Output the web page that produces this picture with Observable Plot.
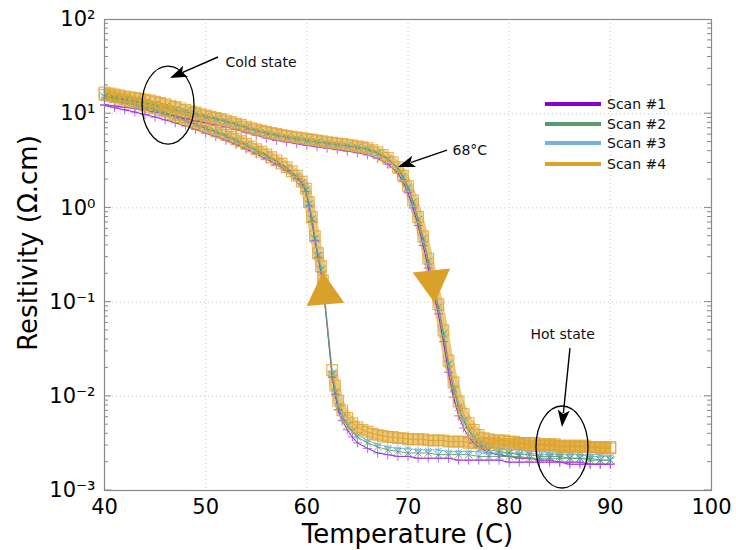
<!DOCTYPE html>
<html><head><meta charset="utf-8">
<script src="https://cdn.jsdelivr.net/npm/d3@7"></script>
<script src="https://cdn.jsdelivr.net/npm/@observablehq/plot@0.6"></script>
<style>
body{margin:0;background:#fff;font-family:"DejaVu Sans",sans-serif;}
#wrap{position:relative;width:736px;height:550px;}
.lg{position:absolute;left:545px;font-size:14px;color:#111;display:flex;align-items:center;height:20px;}
.lg .sw{display:inline-block;width:56px;height:4px;margin-right:6px;}
</style></head><body><div id="wrap"></div>
<script>
// ---- data ----
const scanNames = ["Scan #1", "Scan #2", "Scan #3", "Scan #4"];
const scanColors = ["#8a00d4", "#5a9a6f", "#74b3e0", "#dca32c"];
const markerColors = ["#a546f0", "#4f9a68", "#6db2e2", "#dfa534"];
const markerSymbols = ["plus", "times", "asterisk", "square"];

// temperatures for scans 1-3
const heatT = [40,41,42,43,44,45,46,47,48,49,50,51,52,53,54,55,56,57,58,59,60,61,62,63,64,65,66,67,68,69,
  69.5,70,70.5,71,71.5,72,72.5,73,73.5,74,74.5,75,75.5,76,76.5,77,77.5,78,79,80,81,82,83,84,85,86,87,88,89,90];
const coolT = [90,89,88,87,86,85,84,83,82,81,80,79,78,77,76,75,74,73,72,71,70,69,68,67,66,65,
  64.5,64,63.5,63.1,62.8,62.5,61.6,61.4,61.1,60.8,60.5,60.2,59.9,59.5,
  59,58,57,56,55,54,53,52,51,50,49,48,47,46,45,44,43,42,41,40];
// temperatures for scan 4 (denser sampling)
const heatT4 = [40,40.5,41,41.5,42,42.5,43,43.5,44,44.5,45,45.5,46,46.5,47,47.5,48,48.5,49,49.5,50,50.5,51,51.5,52,52.5,53,53.5,54,54.5,
  55,55.5,56,56.5,57,57.5,58,58.5,59,59.5,60,60.5,61,61.5,62,62.5,63,63.5,64,64.5,65,65.5,66,66.5,67,67.5,68,68.5,69,
  69.5,70,70.5,71,71.5,72,72.5,73,73.5,74,74.5,75,75.5,76,76.5,77,77.5,78,
  78.5,79,79.5,80,80.5,81,81.5,82,82.5,83,83.5,84,84.5,85,85.5,86,86.5,87,87.5,88,88.5,89,89.5,90];
const coolT4 = [90,89.5,89,88.5,88,87.5,87,86.5,86,85.5,85,84.5,84,83.5,83,82.5,82,81.5,81,80.5,80,79.5,79,78.5,78,77.5,77,76.5,76,75.5,
  75,74.5,74,73.5,73,72.5,72,71.5,71,70.5,70,69.5,69,68.5,68,67.5,67,66.5,66,65.5,65,
  64.5,64,63.5,63.1,62.8,62.5,61.6,61.4,61.1,60.8,60.5,60.2,59.9,59.5,
  59,58.5,58,57.5,57,56.5,56,55.5,55,54.5,54,53.5,53,52.5,52,51.5,51,50.5,50,49.5,49,48.5,48,47.5,47,46.5,46,45.5,45,44.5,44,43.5,43,42.5,42,41.5,41,40.5,40];

const heat1 = [12.5,12.1,11.7,11.3,10.9,10.4,9.9,9.4,8.9,8.4,8.0,7.6,7.2,6.8,6.3,5.9,5.5,5.2,5.0,4.8,4.6,4.45,4.3,4.15,4.0,3.85,3.65,3.35,2.9,2.35,
  1.9,1.45,1.0,0.65,0.4,0.23,0.13,0.075,0.038,0.018,0.0098,0.0062,0.0046,0.0037,0.0032,0.0029,0.0027,0.0025,0.0024,0.0023,0.0022,0.0022,0.0021,0.0021,0.0020,0.0020,0.0020,0.0019,0.0019,0.0019];
const heat2 = [15.2,14.6,14.0,13.6,13.1,12.5,11.8,11.1,10.5,9.9,9.3,8.8,8.3,7.7,7.1,6.6,6.2,5.9,5.6,5.4,5.2,5.0,4.85,4.7,4.55,4.4,4.2,3.8,3.3,2.65,
  2.15,1.65,1.15,0.75,0.47,0.27,0.15,0.088,0.046,0.022,0.012,0.0076,0.0055,0.0043,0.0036,0.0031,0.0029,0.0027,0.0026,0.0025,0.0024,0.0024,0.0023,0.0023,0.0023,0.0022,0.0022,0.0022,0.0021,0.0021];
const heat3 = [14.5,14.0,13.5,13.0,12.5,12.0,11.4,10.8,10.2,9.6,9.1,8.6,8.1,7.6,7.0,6.5,6.1,5.8,5.5,5.3,5.1,4.9,4.75,4.6,4.45,4.3,4.1,3.75,3.25,2.6,
  2.1,1.6,1.1,0.72,0.45,0.26,0.15,0.085,0.045,0.022,0.012,0.0078,0.0057,0.0045,0.0038,0.0033,0.0031,0.0029,0.0028,0.0027,0.0027,0.0026,0.0026,0.0025,0.0025,0.0025,0.0024,0.0024,0.0024,0.0023];
const heat4 = [16.8,16.4,16.0,15.6,15.3,15.0,14.7,14.4,14.1,13.8,13.4,13.0,12.6,12.2,11.8,11.4,11.0,10.6,10.3,9.9,9.6,9.3,9.0,8.8,8.5,8.2,7.9,7.6,7.3,7.0,
  6.8,6.6,6.4,6.25,6.1,5.95,5.8,5.7,5.6,5.5,5.4,5.3,5.2,5.1,5.0,4.92,4.85,4.78,4.7,4.6,4.5,4.4,4.3,4.1,3.9,3.65,3.4,3.05,2.7,
  2.2,1.7,1.2,0.8,0.5,0.29,0.16,0.095,0.05,0.024,0.014,0.0088,0.0065,0.0052,0.0044,0.0039,0.0036,0.0035,
  0.0034,0.0034,0.0034,0.0033,0.0033,0.0032,0.0032,0.0032,0.0032,0.0031,0.0031,0.0031,0.0031,0.0030,0.0030,0.0030,0.0030,0.0030,0.0030,0.0029,0.0029,0.0029,0.0029,0.0029];

const cool1 = [0.0019,0.0019,0.0019,0.0019,0.0019,0.0020,0.0020,0.0020,0.0020,0.0020,0.0020,0.0021,0.0021,0.0021,0.0021,0.0021,0.0022,0.0022,0.0022,0.0022,0.0023,0.0023,0.0024,0.0025,0.0028,0.0032,
  0.0037,0.0044,0.0055,0.0072,0.0105,0.016,0.15,0.21,0.30,0.45,0.72,1.05,1.5,1.8,
  2.05,2.5,2.9,3.3,3.75,4.2,4.7,5.2,5.7,6.2,6.8,7.4,8.0,8.6,9.2,9.8,10.4,11.0,11.6,12.2];
const cool2 = [0.0021,0.0021,0.0021,0.0022,0.0022,0.0022,0.0022,0.0022,0.0022,0.0023,0.0023,0.0023,0.0023,0.0023,0.0024,0.0024,0.0024,0.0024,0.0025,0.0025,0.0025,0.0026,0.0027,0.0029,0.0032,0.0037,
  0.0042,0.0049,0.0060,0.0077,0.011,0.017,0.15,0.22,0.31,0.47,0.76,1.1,1.55,1.85,
  2.15,2.65,3.1,3.6,4.1,4.65,5.2,5.8,6.4,7.0,7.7,8.5,9.3,10.1,11.0,11.8,12.6,13.4,14.2,15.0];
const cool3 = [0.0023,0.0023,0.0023,0.0024,0.0024,0.0024,0.0024,0.0024,0.0025,0.0025,0.0025,0.0025,0.0025,0.0026,0.0026,0.0026,0.0026,0.0027,0.0027,0.0027,0.0028,0.0028,0.0029,0.0031,0.0034,0.0039,
  0.0044,0.0051,0.0063,0.0080,0.0115,0.018,0.16,0.23,0.32,0.48,0.78,1.12,1.55,1.85,
  2.1,2.6,3.05,3.5,4.0,4.55,5.1,5.7,6.3,6.9,7.6,8.3,9.1,9.9,10.7,11.5,12.3,13.0,13.7,14.4];
const cool4 = [0.0028,0.0028,0.0028,0.0029,0.0029,0.0029,0.0029,0.0029,0.0029,0.0029,0.0029,0.0030,0.0030,0.0030,0.0030,0.0030,0.0030,0.0031,0.0031,0.0031,0.0031,0.0031,0.0031,0.0032,0.0032,0.0032,0.0032,0.0032,0.0032,0.0033,
  0.0033,0.0033,0.0033,0.0034,0.0034,0.0034,0.0034,0.0035,0.0035,0.0035,0.0035,0.0036,0.0036,0.0037,0.0037,0.0038,0.0039,0.0040,0.0042,0.0044,0.0047,
  0.0052,0.0059,0.0071,0.0090,0.013,0.019,0.17,0.24,0.33,0.5,0.8,1.15,1.6,1.9,
  2.2,2.45,2.7,2.95,3.2,3.45,3.7,3.95,4.2,4.5,4.8,5.1,5.4,5.7,6.0,6.3,6.6,6.95,7.3,7.65,8.0,8.4,8.8,9.2,9.6,10.0,10.5,10.9,11.4,11.8,12.3,12.7,13.2,13.6,14.1,14.5,15.0,15.4,15.9];

const xTicks = [40, 50, 60, 70, 80, 90, 100];
const yTicks = [1e-3, 1e-2, 1e-1, 1, 10, 100];

// annotations (data coordinates)
const bigArrowT = [61.75, 72.42];
const bigArrowR = [0.123, 0.166];
const bigArrowRot = [-5, 174];
const arrowsData = [
  {x1: 51.27, y1: 39.5, x2: 46.52, y2: 23.6},
  {x1: 73.9, y1: 4.06, x2: 69.06, y2: 2.69},
  {x1: 86.06, y1: 0.0321, x2: 85.27, y2: 0.00467}
];
const ellipsesData = [{x: 46.33, y: 12.2, rx: 26, ry: 39}, {x: 85.27, y: 0.00286, rx: 26, ry: 41}];
const labelsData = [
  {x: 51.96, y: 35.0, text: "Cold state"},
  {x: 74.4, y: 4.06, text: "68°C"},
  {x: 82.1, y: 0.0453, text: "Hot state"}
];

// ---- build table ----
const heats = [heat1, heat2, heat3, heat4];
const cools = [cool1, cool2, cool3, cool4];
const heatTs = [heatT, heatT, heatT, heatT4];
const coolTs = [coolT, coolT, coolT, coolT4];
const rows = [];
scanNames.forEach((s, i) => {
  heatTs[i].forEach((t, j) => rows.push({scan: s, i, branch: "heat", seg: "heat", T: t, R: heats[i][j]}));
  coolTs[i].forEach((t, j) => rows.push({scan: s, i, branch: "cool", seg: t >= 62.5 ? "coolHot" : "coolCold", T: t, R: cools[i][j]}));
});

const sup = (d) => {
  const e = Math.round(Math.log10(d));
  return "10" + String(e).replace("-", "⁻").replace(/\d/g, c => "⁰¹²³⁴⁵⁶⁷⁸⁹"[+c]);
};

const byScan = (i) => rows.filter(r => r.i === i);
const dotOpts = (i) => {
  const opts = {x: "T", y: "R", symbol: markerSymbols[i], stroke: markerColors[i], strokeWidth: 1, fill: "none"};
  if (i === 3) Object.assign(opts, {r: 6, strokeOpacity: 0.8, strokeWidth: 1.2});
  else if (i === 0) Object.assign(opts, {r: 3, strokeOpacity: 0.8});
  else Object.assign(opts, {r: 3.5, strokeOpacity: 0.8});
  return opts;
};
const scanMarks = [
  // dense orange band of scan 4 (continuous branches only)
  Plot.line(byScan(3), {x: "T", y: "R", z: "seg", stroke: scanColors[3], strokeWidth: 10, strokeOpacity: 0.6, strokeLinecap: "butt"}),
  Plot.line(byScan(3), {x: "T", y: "R", z: "branch", stroke: scanColors[3], strokeWidth: 1}),
];
for (const i of [0, 2, 1]) {
  scanMarks.push(Plot.line(byScan(i), {x: "T", y: "R", z: "branch", stroke: scanColors[i], strokeWidth: 1, strokeOpacity: 0.9}));
  scanMarks.push(Plot.dot(byScan(i), dotOpts(i)));
}
scanMarks.push(Plot.dot(byScan(3), dotOpts(3)));

const NS = "http://www.w3.org/2000/svg";
function el(tag, attrs) { const e = document.createElementNS(NS, tag); for (const k in attrs) e.setAttribute(k, attrs[k]); return e; }

// inner ticks on log axis (left and right)
const ticksMark = (index, scales, values, dim) => {
  const g = el("g", {stroke: "#888", "stroke-width": 1});
  const xl = dim.marginLeft, xr = dim.width - dim.marginRight;
  for (let e = -3; e <= 1; e++) {
    for (let k = 1; k <= 9; k++) {
      const y = scales.y(k * Math.pow(10, e));
      const len = k === 1 ? 7 : 4;
      g.appendChild(el("line", {x1: xl, x2: xl + len, y1: y, y2: y}));
      g.appendChild(el("line", {x1: xr, x2: xr - len, y1: y, y2: y}));
    }
  }
  return g;
};

const annoMark = (index, scales, values, dim) => {
  const g = el("g", {});
  for (const e of ellipsesData) {
    g.appendChild(el("ellipse", {cx: scales.x(e.x), cy: scales.y(e.y), rx: e.rx, ry: e.ry, fill: "none", stroke: "#000", "stroke-width": 1.3}));
  }
  for (const a of arrowsData) {
    const x1 = scales.x(a.x1), y1 = scales.y(a.y1), x2 = scales.x(a.x2), y2 = scales.y(a.y2);
    const ang = Math.atan2(y2 - y1, x2 - x1), L = 17, W = 6;
    const bx = x2 - L * Math.cos(ang), by = y2 - L * Math.sin(ang);
    g.appendChild(el("line", {x1, y1, x2: bx + 3 * Math.cos(ang), y2: by + 3 * Math.sin(ang), stroke: "#000", "stroke-width": 1.4}));
    const px = -Math.sin(ang), py = Math.cos(ang);
    g.appendChild(el("path", {d: `M${x2},${y2}L${bx + W * px},${by + W * py}L${bx + 4 * Math.cos(ang)},${by + 4 * Math.sin(ang)}L${bx - W * px},${by - W * py}Z`, fill: "#000"}));
  }
  // axis titles
  const xt = el("text", {x: dim.marginLeft + (dim.width - dim.marginLeft - dim.marginRight) / 2, y: 543, "text-anchor": "middle", "font-size": 26, fill: "#000"});
  xt.textContent = "Temperature (C)";
  g.appendChild(xt);
  const yt = el("text", {transform: `translate(37,243) rotate(-90)`, "text-anchor": "middle", "font-size": 26, fill: "#000"});
  yt.textContent = "Resitivity (Ω.cm)";
  g.appendChild(yt);
  return g;
};

const chart = Plot.plot({
  width: 736, height: 550,
  marginLeft: 104, marginRight: 25, marginTop: 19, marginBottom: 60,
  style: {fontFamily: "DejaVu Sans, sans-serif", background: "#fff", overflow: "visible"},
  x: {domain: [40, 100]},
  y: {type: "log", domain: [1e-3, 100]},
  marks: [
    Plot.gridX(xTicks.slice(1, -1), {stroke: "#c8c8c8", strokeOpacity: 1, strokeDasharray: "1,3"}),
    Plot.gridY(yTicks.slice(1, -1), {stroke: "#c8c8c8", strokeOpacity: 1, strokeDasharray: "1,3"}),
    Plot.axisX(xTicks, {tickSize: 0, tickPadding: 9, fontSize: 21, label: null, color: "#000"}),
    Plot.axisY(yTicks, {tickSize: 0, tickPadding: 9, fontSize: 21, label: null, tickFormat: sup, color: "#000"}),
    ...scanMarks,
    Plot.dot(bigArrowT.map((t, i) => ({T: t, R: bigArrowR[i], rot: bigArrowRot[i]})), {x: "T", y: "R", symbol: "triangle", r: 14, fill: "#d9a02a", rotate: "rot"}),
    Plot.text(labelsData, {x: "x", y: "y", text: "text", textAnchor: "start", fontSize: 14, fill: "#111"}),
    annoMark,
    ticksMark,
    Plot.frame({stroke: "#888", strokeWidth: 1.2})
  ]
});
const wrap = document.getElementById("wrap");
wrap.appendChild(chart);
const lgTops = [94, 114, 133, 154];
scanNames.forEach((s, i) => {
  const d = document.createElement("div");
  d.className = "lg";
  d.style.top = lgTops[i] + "px";
  d.innerHTML = `<span class="sw" style="background:${scanColors[i]}"></span><span>${s}</span>`;
  wrap.appendChild(d);
});
</script></body></html>
